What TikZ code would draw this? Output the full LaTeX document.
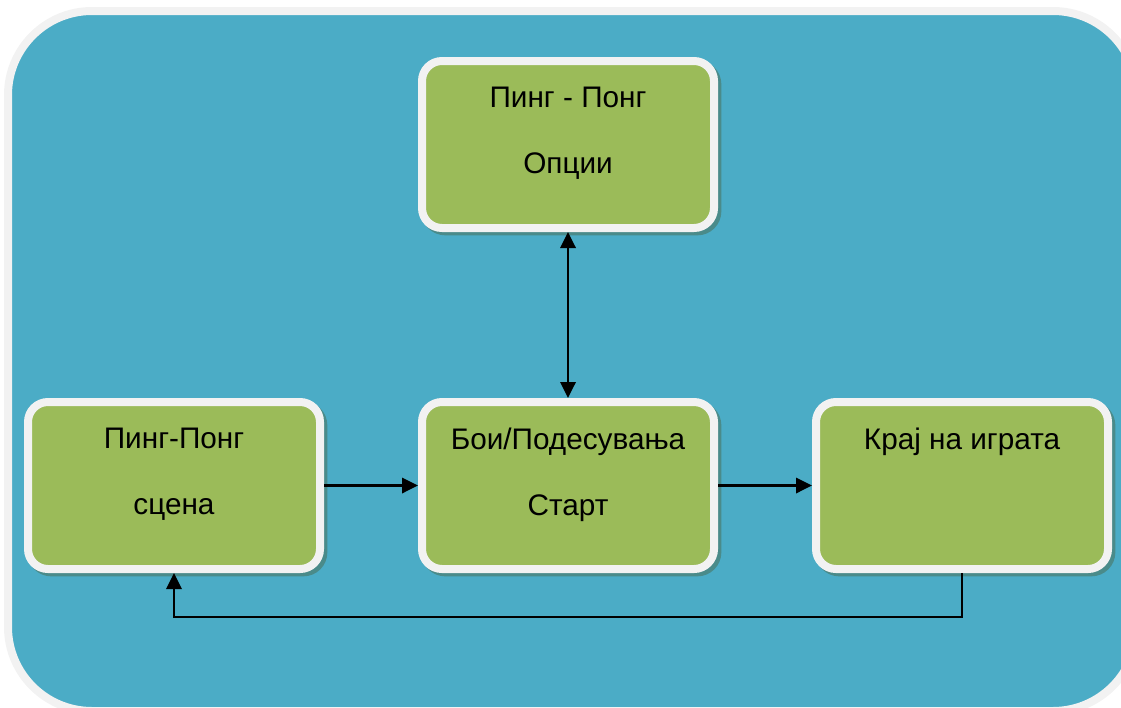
\documentclass[tikz,border=0pt]{standalone}
\usepackage{fontspec}
\setmainfont{Liberation Sans}
\usetikzlibrary{arrows.meta,positioning,shadows}
\definecolor{bgblue}{HTML}{4BACC6}
\definecolor{bggray}{HTML}{F2F2F2}
\definecolor{boxgreen}{HTML}{9BBB59}
\definecolor{boxshadow}{HTML}{4A8B8A}
\tikzset{stagebox/.style={rectangle,draw=bggray,fill=boxgreen,line width=6pt,rounded corners=15pt,
	minimum width=219pt,minimum height=125.25pt,
	drop shadow={shadow xshift=2.5pt,shadow yshift=-2.5pt,opacity=1,fill=boxshadow,draw=boxshadow}}}
\tikzset{stagetext/.style={inner sep=0pt,align=center,font=\fontsize{22.3}{49.5}\selectfont}}
\tikzset{flow/.style={line width=1.8pt,-{Triangle[length=12pt,width=11.5pt]}}}
\tikzset{flowboth/.style={line width=1.8pt,{Triangle[length=12pt,width=11.5pt]}-{Triangle[length=12pt,width=11.5pt]}}}

\begin{document}
\begin{tikzpicture}[x=0.75pt,y=-0.75pt]
		\useasboundingbox (0,0) rectangle (1121,707);
		\begin{scope}
			\clip (0,0) rectangle (1121,707);
			\draw [draw=bggray,fill=bgblue,line width=6pt,rounded corners=63pt] (8,11) rectangle (1137,711);
		\end{scope}

		\node [stagebox] (options) at (568,144.5) {};
		\node [stagebox] (scene) at (174,485.5) {};
		\node [stagebox] (start) at (568,485.5) {};
		\node [stagebox] (gameover) at (962,485.5) {};

		\node [stagetext,below=22pt of options.north] (optionstext) {Пинг - Понг\\Опции};
		\node [stagetext,below=22pt of scene.north] (scenetext) {Пинг-Понг\\сцена};
		\node [stagetext,below=22pt of start.north] (starttext) {Бои/Подесувања\\Старт};
		\node [stagetext,below=22pt of gameover.north] (gameovertext) {Крај на играта};

		\draw [flowboth] (options) -- (start);
		\draw [flow] (scene) -- (start);
		\draw [flow] (start) -- (gameover);
		\draw [flow] (gameover.south) -- ++(0,44) -| (scene.south);
	\end{tikzpicture}
\end{document}
